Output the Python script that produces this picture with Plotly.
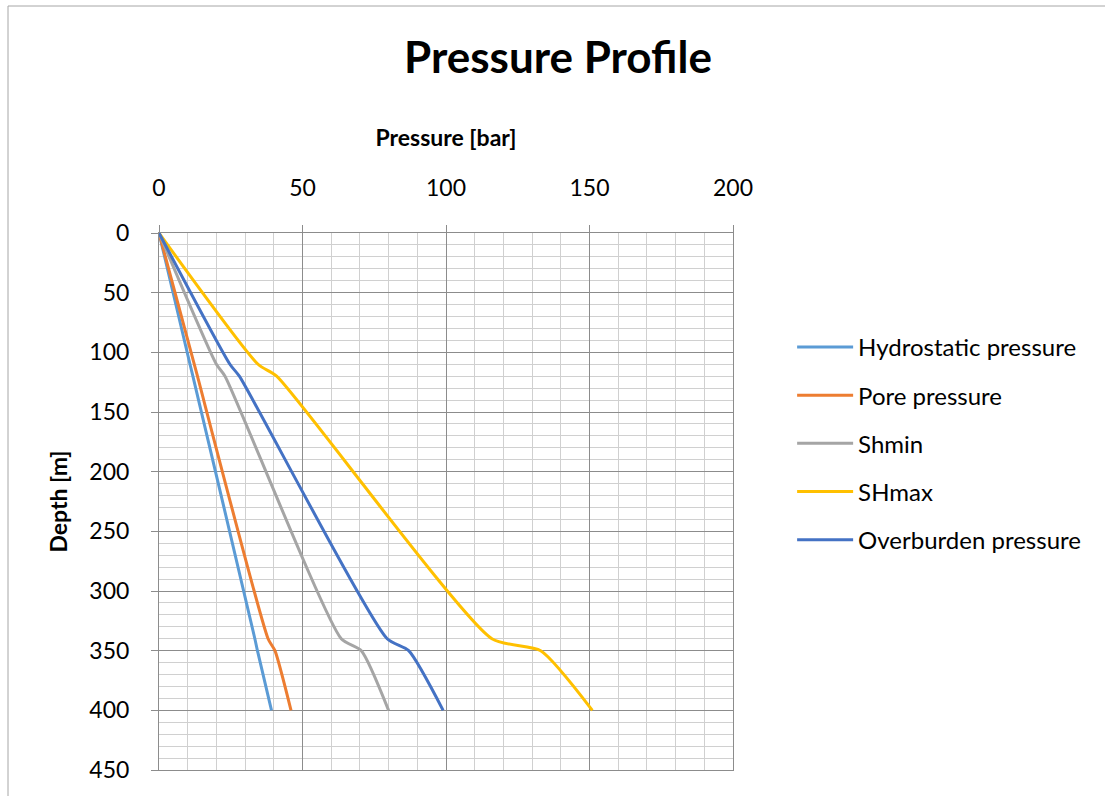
import plotly.graph_objects as go

depth = [0, 110, 120, 340, 350, 400]
hydrostatic = [0, 10.8, 11.8, 33.4, 34.3, 39.2]
pore = [0, 12.3, 13.4, 38.0, 40.4, 46.0]
shmin = [0, 20.0, 23.0, 63.5, 70.5, 80.0]
shmax = [0, 34.5, 41.0, 116.0, 133.0, 151.0]
overburden = [0, 24.7, 28.0, 79.5, 87.0, 99.0]

names = ["Hydrostatic pressure", "Pore pressure", "Shmin", "SHmax", "Overburden pressure"]
series = [hydrostatic, pore, shmin, shmax, overburden]
colors = ["#5B9BD5", "#ED7D31", "#A5A5A5", "#FFC000", "#4472C4"]

FONT = "Lato"

fig = go.Figure()
for n, s, c in zip(names, series, colors):
    fig.add_trace(go.Scatter(
        x=s, y=depth, name=n, mode="lines", legendgroup=n,
        line=dict(color=c, width=3, shape="spline", smoothing=0.6),
    ))

fig.update_layout(
    width=1105, height=796,
    margin=dict(l=159, r=372, t=233, b=26),
    paper_bgcolor="white", plot_bgcolor="white",
    font=dict(family=FONT, color="#000000", size=23),
    title=dict(text="<b>Pressure Profile</b>", x=0.505, xanchor="center",
               y=0.928, yanchor="middle", font=dict(size=44, family=FONT)),
    legend=dict(x=1.103, xanchor="left", y=0.829, yanchor="top",
                font=dict(size=24, family=FONT), tracegroupgap=14,
                itemwidth=56, bgcolor="rgba(0,0,0,0)"),
    showlegend=True,
)

fig.update_xaxes(
    range=[0, 200], side="top", dtick=50, tick0=0,
    showgrid=True, gridcolor="#8C8C8C", gridwidth=1,
    minor=dict(dtick=10, showgrid=True, gridcolor="#D0D0D0", gridwidth=1),
    showline=True, linecolor="#8C8C8C", linewidth=1, mirror=True,
    ticks="outside", ticklen=7, tickcolor="#8C8C8C",
    ticklabelstandoff=20,
    zeroline=False,
    title=dict(text="<b>Pressure [bar]</b>", font=dict(size=23, family=FONT), standoff=19),
    tickfont=dict(size=23, family=FONT),
)
fig.update_yaxes(
    range=[450, 0], dtick=50, tick0=0,
    showgrid=True, gridcolor="#8C8C8C", gridwidth=1,
    minor=dict(dtick=10, showgrid=True, gridcolor="#D0D0D0", gridwidth=1),
    showline=True, linecolor="#8C8C8C", linewidth=1, mirror=True,
    ticks="outside", ticklen=7, tickcolor="#8C8C8C",
    ticklabelstandoff=17,
    zeroline=False,
    title=dict(text="<b>Depth [m]</b>", font=dict(size=23, family=FONT), standoff=15),
    tickfont=dict(size=23, family=FONT),
)

fig.add_shape(type="rect", xref="paper", yref="paper",
              x0=-151/574, x1=(1110-159)/574, y0=-1, y1=(796-6-26)/537,
              line=dict(color="#A6A6A6", width=1), fillcolor="rgba(0,0,0,0)", layer="below")

fig.write_html("out.html")
